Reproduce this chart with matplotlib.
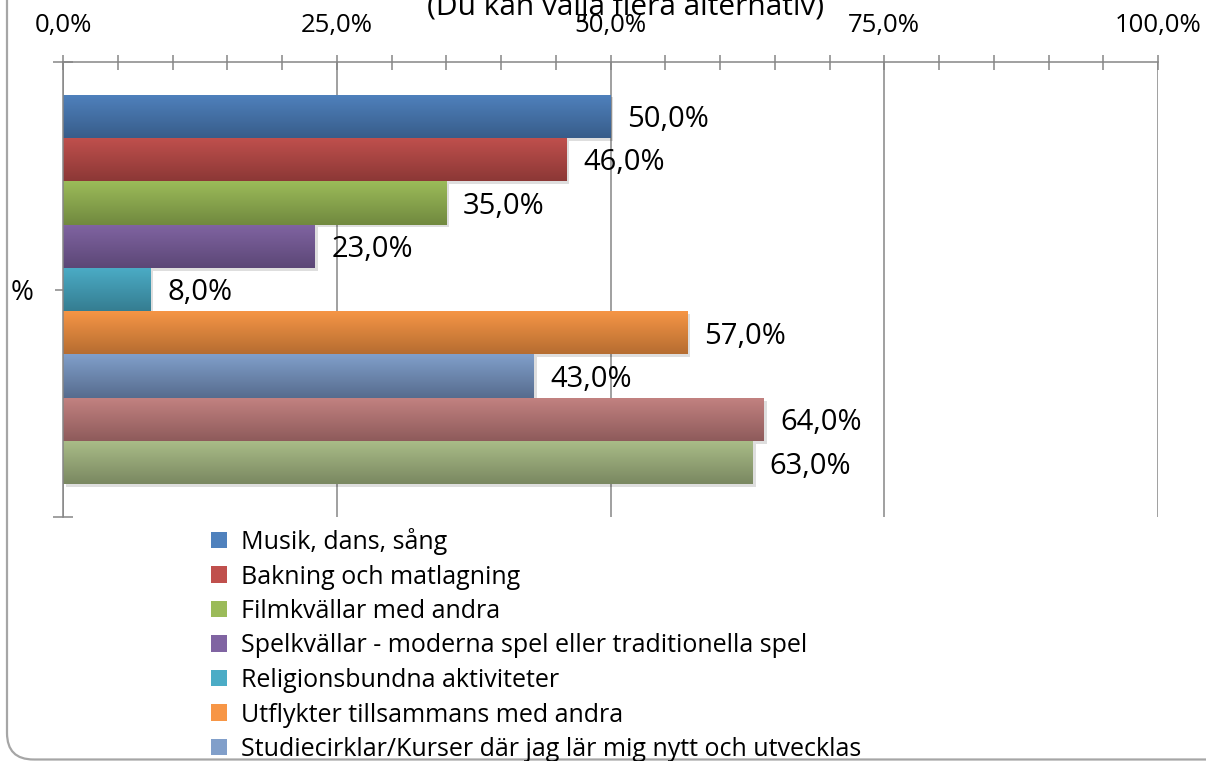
import numpy as np
import matplotlib
matplotlib.use("Agg")
import matplotlib.pyplot as plt
import matplotlib.patheffects as pe
from matplotlib.patches import Patch, FancyBboxPatch
from matplotlib.colors import to_rgb

plt.rcParams['font.family'] = ['Open Sans', 'DejaVu Sans']

# ---------------- data ----------------
series_names = [
    "Musik, dans, sång",
    "Bakning och matlagning",
    "Filmkvällar med andra",
    "Spelkvällar - moderna spel eller traditionella spel",
    "Religionsbundna aktiviteter",
    "Utflykter tillsammans med andra",
    "Studiecirklar/Kurser där jag lär mig nytt och utvecklas",
]
values = [50.0, 46.0, 35.0, 23.0, 8.0, 57.0, 43.0, 64.0, 63.0]
category = ["%"]
x_ticks = [0, 25, 50, 75, 100]
x_tick_labels = ["0,0%", "25,0%", "50,0%", "75,0%", "100,0%"]
title_text = "(Du kan välja flera alternativ)"

# ---------------- style ----------------
top_colors = ["#4F81BD", "#C0504D", "#9BBB59", "#8064A2", "#4BACC6",
              "#F79646", "#819FCA", "#C38281", "#AABD88"]
bottom_colors = ["#385D8A", "#8C3836", "#71893F", "#5C4776", "#357D91",
                 "#B66D31", "#566C8E", "#8E5B5B", "#7A8861"]
axis_gray = "#868686"

W, H = 1206, 761
fig = plt.figure(figsize=(W / 100, H / 100), dpi=100)
fig.patch.set_facecolor("white")

# rounded border (only left/bottom visible in reference)
border = FancyBboxPatch((7 / W, 1.5 / H), 1.2, 1.2,
                        boxstyle="round,pad=0,rounding_size=0.022",
                        transform=fig.transFigure, facecolor="none",
                        edgecolor="#A6A6A6", linewidth=1.6, zorder=0,
                        mutation_aspect=W / H)
fig.patches.append(border)

ax = fig.add_axes([63 / W, 1 - 517 / H, (1158 - 63) / W, (517 - 62) / H])
ax.set_facecolor("none")

n = len(values)
group = 0.857
h = group / n
centers = [-group / 2 + h * (i + 0.5) for i in range(n)]

bars = ax.barh(centers, values, height=h, color=top_colors, zorder=3, linewidth=0)
for b in bars:
    b.set_path_effects([pe.SimplePatchShadow(offset=(2, -2), shadow_rgbFace="black", alpha=0.13),
                        pe.Normal()])

# gradient fill on each bar
for b, ct, cb in zip(bars, top_colors, bottom_colors):
    x0 = b.get_x(); w = b.get_width(); y0 = b.get_y(); hh = b.get_height()
    t = np.linspace(0, 1, 64)[:, None]
    c1 = np.array(to_rgb(ct)); c2 = np.array(to_rgb(cb))
    grad = (c1[None, None, :] * (1 - t[..., None]) + c2[None, None, :] * t[..., None])
    im = ax.imshow(grad, extent=(x0, x0 + w, y0 + hh, y0), origin="upper",
                   aspect="auto", zorder=3.5, interpolation="bilinear")
    im.set_clip_path(b)

# data labels
for b, v in zip(bars, values):
    ax.annotate(f"{v:.1f}%".replace(".", ","),
                xy=(b.get_width(), b.get_y() + b.get_height() / 2),
                xytext=(12, -2.5), textcoords="offset points",
                ha="left", va="center", fontsize=21, color="black", zorder=5)

ax.set_xlim(0, 100)
ax.set_ylim(0.5, -0.5)

ax.xaxis.tick_top()
ax.set_xticks(x_ticks)
ax.set_xticklabels(x_tick_labels)
ax.set_xticks(np.arange(0, 101, 5), minor=True)
ax.tick_params(axis="x", which="both", direction="inout", length=10.8, width=1.1,
               color=axis_gray, labelsize=18.5, pad=12, labelcolor="black")
ax.grid(axis="x", which="major", color=axis_gray, linewidth=1.1, zorder=1)
ax.set_axisbelow(True)

ax.set_yticks([0])
ax.set_yticklabels(category)
ax.set_yticks([-0.5, 0.5], minor=True)
ax.tick_params(axis="y", which="major", direction="out", length=6, width=1.1,
               color=axis_gray, labelsize=20, pad=15.5, labelcolor="black")
ax.tick_params(axis="y", which="minor", direction="inout", length=14, width=1.1,
               color=axis_gray)

for s in ["bottom", "right"]:
    ax.spines[s].set_visible(False)
for s in ["top", "left"]:
    ax.spines[s].set_color(axis_gray)
    ax.spines[s].set_linewidth(1.1)
    ax.spines[s].set_zorder(4)

# title (clipped at top of figure as in reference)
fig.text(626 / W, 1 - 15 / H, title_text, ha="center", va="baseline",
         fontsize=21.5, color="black")

# legend
handles = [Patch(facecolor=c, edgecolor="none") for c in top_colors[:len(series_names)]]
fig.legend(handles, series_names, loc="upper left",
           bbox_to_anchor=(211 / W, 1 - 528 / H), frameon=False,
           fontsize=18, handlelength=0.64, handleheight=0.64,
           handletextpad=0.56, labelspacing=0.38, borderpad=0, borderaxespad=0)

fig.savefig("out.png", dpi=100)
